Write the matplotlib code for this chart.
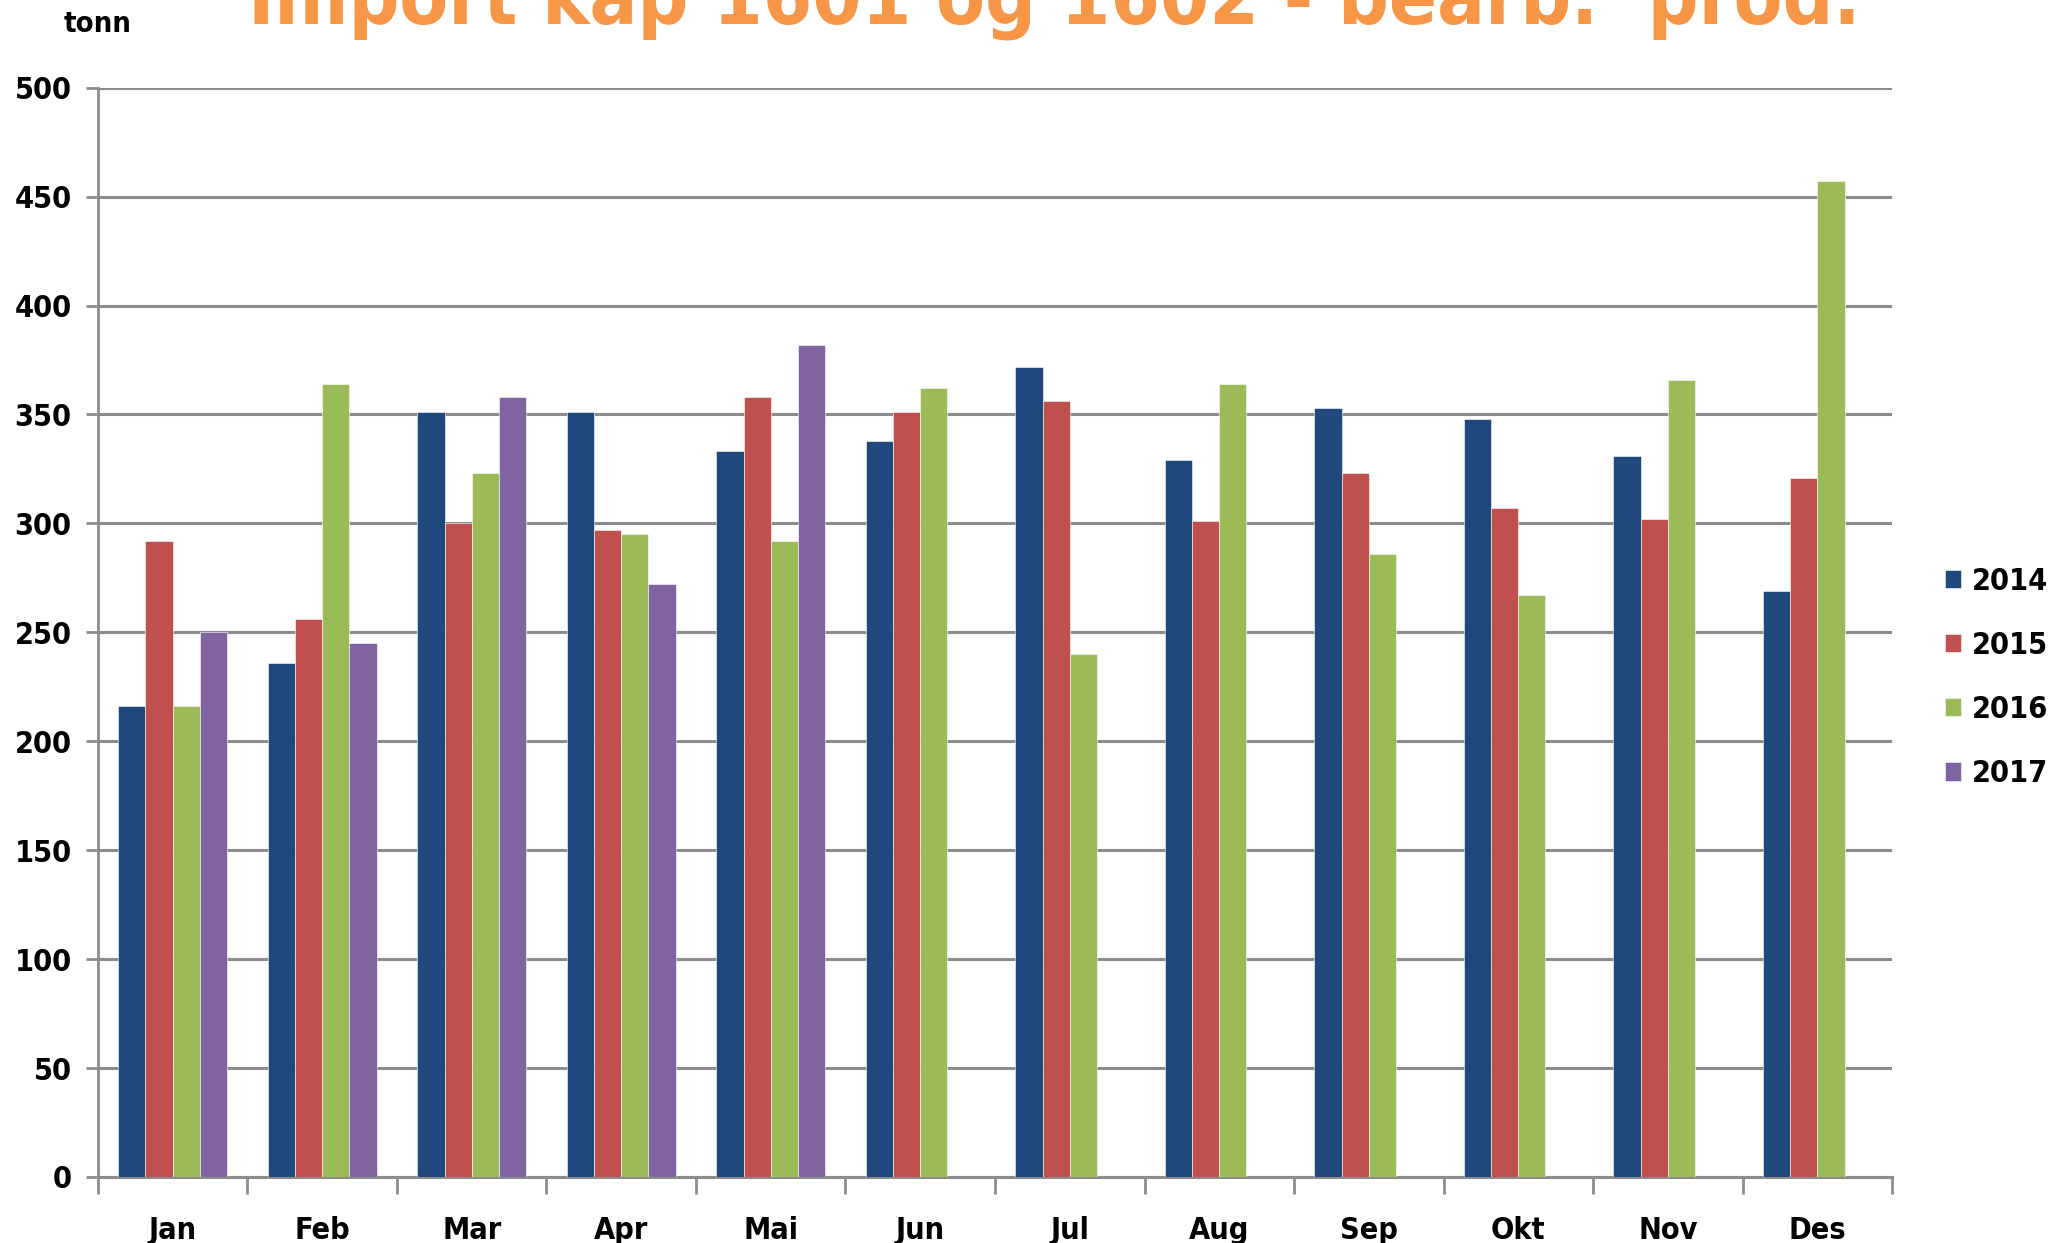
import matplotlib
matplotlib.use('Agg')
import matplotlib.pyplot as plt
from matplotlib import font_manager
import numpy as np

# 数据
months = ['Jan', 'Feb', 'Mar', 'Apr', 'Mai', 'Jun', 'Jul', 'Aug', 'Sep', 'Okt', 'Nov', 'Des']
years = ['2014', '2015', '2016', '2017']
v2014 = [216, 236, 351, 351, 333, 338, 372, 329, 353, 348, 331, 269]
v2015 = [292, 256, 300, 297, 358, 351, 356, 301, 323, 307, 302, 321]
v2016 = [216, 364, 323, 295, 292, 362, 240, 364, 286, 267, 366, 457]
v2017 = [250, 245, 358, 272, 382, np.nan, np.nan, np.nan, np.nan, np.nan, np.nan, np.nan]
colors = ['#1F497D', '#C0504D', '#9BBB59', '#8064A2']

# 找一个窄体粗体字体 (类似 Calibri)
cond = [f for f in font_manager.fontManager.ttflist
        if 'condensed' in str(f.stretch) and f.weight in (700, 'bold')]
if cond:
    fp = font_manager.FontProperties(fname=cond[0].fname)
    scale = 1.0
else:
    fp = font_manager.FontProperties(family='Liberation Sans', weight='bold')
    scale = 0.85


def sized(size):
    p = fp.copy()
    p.set_size(size * scale)
    return p


fig = plt.figure(figsize=(20.49, 12.43), dpi=100)
ax = fig.add_axes([0.0478, 0.0531, 0.8756, 0.8764])

x = np.arange(len(months))
w = 0.182
series = [v2014, v2015, v2016, v2017]
for i, (vals, col, yr) in enumerate(zip(series, colors, years)):
    ax.bar(x + (i - 1.5) * w, vals, width=w, color=col, label=yr,
           edgecolor='white', linewidth=0.4, zorder=3)

ax.set_xlim(-0.5, 11.5)
ax.set_ylim(0, 500)
ax.set_yticks(range(0, 501, 50))
ax.yaxis.grid(True, color='#8c8c8c', linewidth=2.2, zorder=0)
ax.set_axisbelow(True)

# x 轴刻度在分类边界
ax.set_xticks(np.arange(-0.5, 12, 1))
ax.set_xticklabels([])
ax.set_xticks(x, minor=True)
ax.set_xticklabels(months, minor=True)
ax.tick_params(axis='x', which='major', length=12, width=2, color='#8c8c8c', direction='out')
ax.tick_params(axis='x', which='minor', length=0, pad=28)
ax.tick_params(axis='y', length=9, width=2, color='#8c8c8c', direction='out', pad=10)
for lab in ax.get_xticklabels(minor=True) + ax.get_yticklabels():
    lab.set_fontproperties(sized(22))

for s in ['top', 'right']:
    ax.spines[s].set_visible(False)
ax.spines['left'].set_color('#8c8c8c')
ax.spines['left'].set_linewidth(2)
ax.spines['bottom'].set_color('#8c8c8c')
ax.spines['bottom'].set_linewidth(2.2)

fig.text(0.031, 0.981, 'tonn', ha='left', va='center', fontproperties=sized(21))

title = fig.text(0.121, 0.981, 'Import kap 1601 og 1602 - bearb.  prod.', color='#F79646',
                 ha='left', va='baseline', fontproperties=sized(60))
fig.canvas.draw()
bb = title.get_window_extent()
title.set_fontsize(title.get_fontsize() * 1614 / bb.width)

ax.legend(loc='center left', bbox_to_anchor=(0.949, 0.455), bbox_transform=fig.transFigure,
          frameon=False, prop=sized(22), handlelength=0.55, handleheight=0.55,
          handletextpad=0.35, labelspacing=1.15, borderpad=0, borderaxespad=0)

plt.savefig('out.png', dpi=100)
